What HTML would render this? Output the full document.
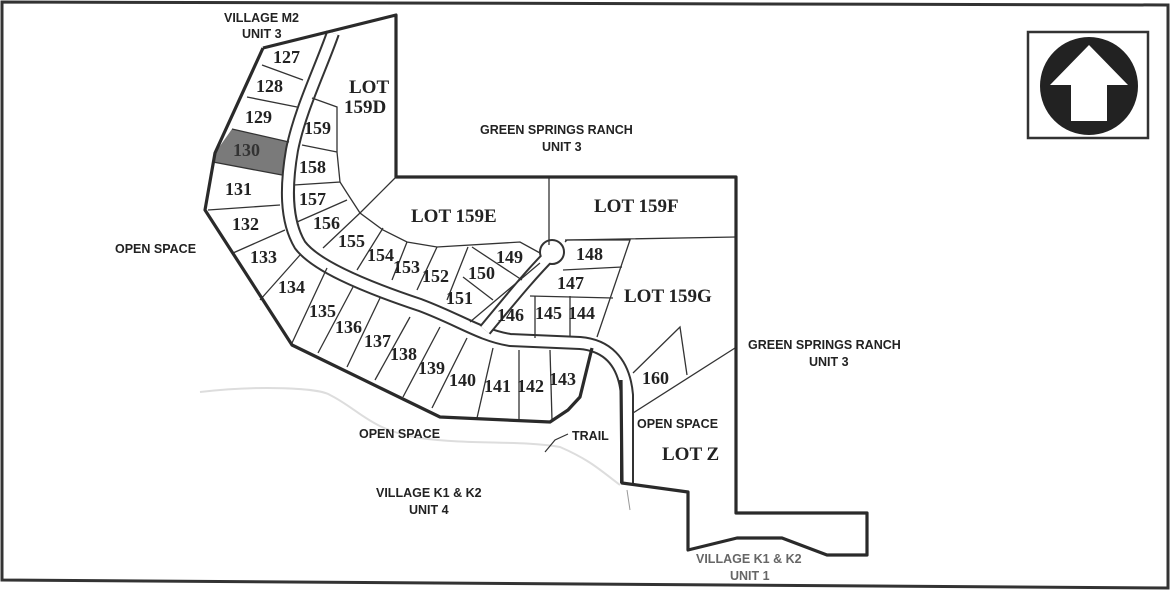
<!DOCTYPE html>
<html><head><meta charset="utf-8"><style>
html,body{margin:0;padding:0;background:#fff;}
svg{display:block;}
.n{font-family:"Liberation Serif",serif;font-weight:bold;font-size:18px;fill:#222;}
.l{font-family:"Liberation Serif",serif;font-weight:bold;font-size:19px;fill:#222;}
.s{font-family:"Liberation Sans",sans-serif;font-weight:bold;font-size:12.5px;fill:#222;}
</style></head><body>
<svg width="1172" height="592" viewBox="0 0 1172 592" xmlns="http://www.w3.org/2000/svg">
<rect width="1172" height="592" fill="#fff"/>
<polygon points="2,2 1168,5 1168,588 2,580" fill="none" stroke="#333" stroke-width="3"/>
<rect x="1028" y="32" width="120" height="106" fill="none" stroke="#333" stroke-width="2.5"/>
<circle cx="1089" cy="86" r="49" fill="#222"/>
<polygon points="1089,45 1128,85 1107,85 1107,121 1071,121 1071,85 1050,85" fill="#fff"/>
<path d="M200,392 C260,385 320,388 330,395 C360,410 370,430 420,438 C470,445 520,440 560,447 C590,460 600,470 620,485" fill="none" stroke="#ddd" stroke-width="2"/>
<path d="M545,452 L555,440 L568,434" fill="none" stroke="#333" stroke-width="1.2"/>
<polygon points="232,129 289,142 282,175 213,162 215,153" fill="#7a7a7a"/>
<g fill="none" stroke-linecap="butt" stroke-linejoin="round">
<path d="M333,33 C320,70 300,110 292,150 C286,185 285,220 300,245 C315,265 360,285 420,305 C460,320 480,335 510,340 L580,343 C605,345 624,360 627,395 L627,483" stroke="#333" stroke-width="14"/>
<path d="M333,33 C320,70 300,110 292,150 C286,185 285,220 300,245 C315,265 360,285 420,305 C460,320 480,335 510,340 L580,343 C605,345 624,360 627,395 L627,490" stroke="#fff" stroke-width="10"/>
<path d="M485,330 C510,300 530,275 552,253" stroke="#333" stroke-width="14"/>
<circle cx="552" cy="252" r="12" fill="#fff" stroke="#333" stroke-width="2"/>
<path d="M485,330 C510,300 530,275 552,253" stroke="#fff" stroke-width="10"/>
<path d="M627,490 L630,510" stroke="#999" stroke-width="1"/>
</g>
<g stroke="#333" stroke-width="1.3" fill="none">
<line x1="262" y1="65" x2="303" y2="80"/>
<line x1="247" y1="97" x2="297" y2="107"/>
<line x1="232" y1="129" x2="289" y2="142"/>
<line x1="213" y1="162" x2="282" y2="175"/>
<line x1="208" y1="210" x2="280" y2="205"/>
<line x1="233" y1="253" x2="285" y2="230"/>
<line x1="260" y1="300" x2="300" y2="255"/>
<line x1="292" y1="343" x2="327" y2="268"/>
<line x1="318" y1="353" x2="353" y2="287"/>
<line x1="347" y1="367" x2="380" y2="298"/>
<line x1="375" y1="380" x2="410" y2="317"/>
<line x1="403" y1="397" x2="440" y2="327"/>
<line x1="432" y1="408" x2="467" y2="338"/>
<line x1="477" y1="418" x2="493" y2="348"/>
<line x1="519" y1="421" x2="519" y2="350"/>
<line x1="552" y1="420" x2="550" y2="350"/>
<polyline points="312,98 337,107 337,152"/>
<line x1="302" y1="145" x2="337" y2="152"/>
<polyline points="294,185 340,182 337,152"/>
<polyline points="340,182 347,193 360,213 383,230 407,242 437,247 520,242 540,253"/>
<line x1="297" y1="222" x2="347" y2="200"/>
<line x1="323" y1="248" x2="360" y2="213"/>
<line x1="360" y1="213" x2="396" y2="177"/>
<line x1="357" y1="270" x2="383" y2="228"/>
<line x1="392" y1="280" x2="407" y2="242"/>
<line x1="417" y1="290" x2="437" y2="247"/>
<line x1="447" y1="300" x2="468" y2="247"/>
<line x1="463" y1="277" x2="493" y2="300"/>
<line x1="472" y1="247" x2="522" y2="280"/>
<line x1="470" y1="322" x2="540" y2="263"/>
<line x1="549" y1="177" x2="549" y2="245"/>
<polyline points="565,242 567,240 736,237"/>
<polyline points="565,240 630,240 597,337"/>
<line x1="563" y1="270" x2="622" y2="267"/>
<line x1="530" y1="296" x2="613" y2="298"/>
<line x1="535" y1="296" x2="535" y2="338"/>
<line x1="570" y1="296" x2="570" y2="336"/>
<polyline points="633,373 680,327 687,375"/>
<line x1="633" y1="413" x2="735" y2="348"/>
</g>
<g stroke="#2a2a2a" stroke-width="3.2" fill="none" stroke-linejoin="round">
<polyline points="263,48 396,15 396,177 736,177 736,513 867,513 867,555 827,555 782,538 737,538 688,550 688,492 622,483 621,380"/>
<polyline points="263,48 215,153 205,210 292,345 440,417 550,422 568,410 580,397 592,348"/>
</g>
<g class="n">
<text x="273" y="63">127</text><text x="256" y="92">128</text><text x="245" y="123">129</text>
<text x="233" y="156" fill="#333">130</text><text x="225" y="195">131</text><text x="232" y="230">132</text>
<text x="250" y="263">133</text><text x="278" y="293">134</text><text x="309" y="317">135</text>
<text x="335" y="333">136</text><text x="364" y="347">137</text><text x="390" y="360">138</text>
<text x="418" y="374">139</text><text x="449" y="386">140</text><text x="484" y="392">141</text>
<text x="517" y="392">142</text><text x="549" y="385">143</text>
<text x="304" y="134">159</text><text x="299" y="173">158</text><text x="299" y="205">157</text>
<text x="313" y="229">156</text><text x="338" y="247">155</text><text x="367" y="261">154</text>
<text x="393" y="273">153</text><text x="422" y="282">152</text><text x="446" y="304">151</text>
<text x="468" y="279">150</text><text x="496" y="263">149</text><text x="576" y="260">148</text>
<text x="557" y="289">147</text><text x="497" y="321">146</text><text x="535" y="319">145</text>
<text x="568" y="319">144</text><text x="642" y="384">160</text>
</g>
<g class="l">
<text x="349" y="93">LOT</text><text x="344" y="113">159D</text>
<text x="411" y="222">LOT 159E</text><text x="594" y="212">LOT 159F</text>
<text x="624" y="302">LOT 159G</text><text x="662" y="460">LOT Z</text>
</g>
<g class="s">
<text x="224" y="22">VILLAGE M2</text><text x="242" y="38">UNIT 3</text>
<text x="480" y="134">GREEN SPRINGS RANCH</text><text x="542" y="151">UNIT 3</text>
<text x="115" y="253">OPEN SPACE</text>
<text x="748" y="349">GREEN SPRINGS RANCH</text><text x="809" y="366">UNIT 3</text>
<text x="359" y="438">OPEN SPACE</text><text x="572" y="440">TRAIL</text>
<text x="637" y="428">OPEN SPACE</text>
<text x="376" y="497">VILLAGE K1 &amp; K2</text><text x="409" y="514">UNIT 4</text>
<text x="696" y="563" fill="#666">VILLAGE K1 &amp; K2</text><text x="730" y="580" fill="#666">UNIT 1</text>
</g>
</svg>
</body></html>
